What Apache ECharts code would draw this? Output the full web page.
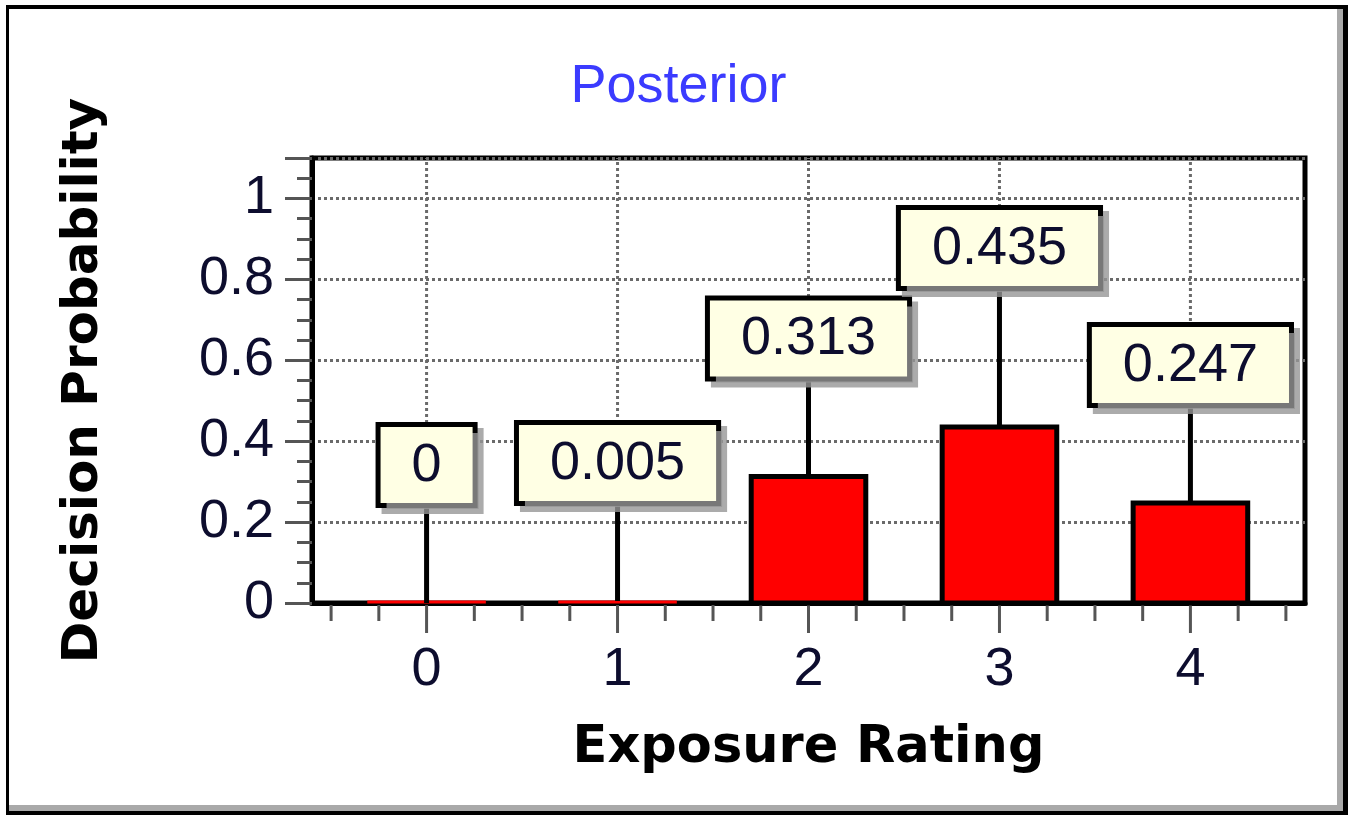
<!DOCTYPE html>
<html><head><meta charset="utf-8">
<script src="https://cdn.jsdelivr.net/npm/echarts@6/dist/echarts.min.js"></script>
<style>html,body{margin:0;padding:0;background:#fff}#chart{width:1357px;height:817px}</style>
</head><body><div id="chart"></div>
<script>
// ---- data ----
const categories = ['0', '1', '2', '3', '4'];
const probabilities = [0, 0.005, 0.313, 0.435, 0.247];
const yTickValues = [0, 0.2, 0.4, 0.6, 0.8, 1];
const chartTitle = 'Posterior';
const xTitle = 'Exposure Rating';
const yTitle = 'Decision Probability';

// ---- style ----
const LABEL_LIFT = [100, 100, 100, 141, 100];
const BAR_HALF = 0.3;
const NUM_FONT = '54px "Liberation Sans", Arial, sans-serif';
const INK = '#0d0d2e';
const GRID_COLOR = '#6a6a6a';
const GRID_STYLE = { stroke: GRID_COLOR, lineWidth: 3, lineDash: [3, 3] };
const TICK_COLOR = '#555';

const chart = echarts.init(document.getElementById('chart'), null, { renderer: 'canvas' });

const catData = categories.map((c, i) => [i]);
const barData = probabilities.map((v, i) => [i, v]);

function renderAxisDecor(params, api) {
  const i = api.value(0);
  const base = api.coord([i, 0]);
  const top = api.coord([i, 1.1]);
  const children = [];
  children.push({ type: 'line', shape: { x1: base[0], y1: base[1], x2: top[0], y2: top[1] }, style: GRID_STYLE });
  const minor = [-0.25, 0.25, 0.5];
  if (i === 0) minor.push(-0.5);
  minor.forEach(d => {
    const p = api.coord([i + d, 0]);
    children.push({ type: 'line', shape: { x1: p[0], y1: p[1] + 2, x2: p[0], y2: p[1] + 18 }, style: { stroke: TICK_COLOR, lineWidth: 3 } });
  });
  children.push({ type: 'line', shape: { x1: base[0], y1: base[1] + 2, x2: base[0], y2: base[1] + 30 }, style: { stroke: TICK_COLOR, lineWidth: 3 } });
  children.push({ type: 'text', x: base[0], y: base[1] + 67, style: { text: categories[i], font: NUM_FONT, fill: INK, align: 'center', verticalAlign: 'middle' } });
  return { type: 'group', children };
}

function renderBar(params, api) {
  const i = api.value(0), v = api.value(1);
  const base = api.coord([i, 0]);
  const top = api.coord([i, v]);
  const l = api.coord([i - BAR_HALF, 0])[0], r = api.coord([i + BAR_HALF, 0])[0];
  const h = base[1] - top[1];
  const children = [];
  if (h > 5) {
    children.push({ type: 'rect', shape: { x: l, y: top[1], width: r - l, height: h }, style: { fill: '#ff0000', stroke: '#000', lineWidth: 5 } });
  } else {
    children.push({ type: 'line', shape: { x1: l - 2, y1: base[1] - 1, x2: r + 2, y2: base[1] - 1 }, style: { stroke: '#ff0000', lineWidth: 3 } });
  }
  const ly = top[1] - LABEL_LIFT[i];
  children.push({ type: 'line', shape: { x1: top[0], y1: top[1], x2: top[0], y2: ly }, style: { stroke: '#000', lineWidth: 5 } });
  children.push({
    type: 'text', x: top[0], y: ly,
    style: {
      text: String(probabilities[i]), font: NUM_FONT, fill: INK, align: 'center', verticalAlign: 'bottom',
      backgroundColor: '#ffffe4', borderColor: '#000', borderWidth: 5, padding: [12, 31, 10, 31],
      shadowColor: 'rgba(150,150,150,0.8)', shadowOffsetX: 6, shadowOffsetY: 6, shadowBlur: 0
    }
  });
  return { type: 'group', children };
}

const option = {
  animation: false,
  backgroundColor: '#fff',
  title: {
    text: chartTitle, left: 'center', top: 55,
    textStyle: { fontFamily: '"Liberation Sans", Arial', fontWeight: 'normal', fontSize: 54, color: '#3b3bff' }
  },
  grid: { left: 312, top: 158, width: 993, height: 445, show: true, borderColor: '#000', borderWidth: 5 },
  xAxis: {
    type: 'value', min: -0.6, max: 4.6,
    name: xTitle, nameLocation: 'middle', nameGap: 120,
    nameTextStyle: { fontFamily: '"DejaVu Sans"', fontWeight: 'bold', fontSize: 51, color: '#000' },
    axisLine: { show: true, onZero: false, lineStyle: { color: '#000', width: 5 } },
    axisTick: { show: false }, axisLabel: { show: false }, splitLine: { show: false }
  },
  yAxis: {
    type: 'value', min: 0, max: 1.1, interval: 0.2,
    name: yTitle, nameLocation: 'middle', nameGap: 203, nameRotate: 90,
    nameTextStyle: { fontFamily: '"DejaVu Sans"', fontWeight: 'bold', fontSize: 50, color: '#000' },
    axisLine: { show: true, onZero: false, lineStyle: { color: '#000', width: 5 } },
    axisTick: { show: true, length: 27, lineStyle: { color: TICK_COLOR, width: 3 } },
    minorTick: { show: true, splitNumber: 4, length: 15, lineStyle: { color: TICK_COLOR, width: 3 } },
    axisLabel: {
      fontSize: 54, fontFamily: '"Liberation Sans", Arial', color: INK, margin: 38, padding: [0, 0, 12, 0],
      formatter: v => yTickValues.some(t => Math.abs(t - v) < 1e-9) ? String(+(+v).toFixed(1)) : ''
    },
    splitLine: { show: true, lineStyle: { color: GRID_COLOR, width: 3, type: [3, 3] } }
  },
  graphic: [
    { type: 'rect', shape: { x: 6, y: 5, width: 1342, height: 4 }, style: { fill: '#000' } },
    { type: 'rect', shape: { x: 6, y: 5, width: 3, height: 810 }, style: { fill: '#000' } },
    { type: 'rect', shape: { x: 1343, y: 5, width: 5, height: 810 }, style: { fill: '#000' } },
    { type: 'rect', shape: { x: 6, y: 811, width: 1342, height: 4 }, style: { fill: '#000' } },
    { type: 'rect', shape: { x: 1337, y: 9, width: 6, height: 802 }, style: { fill: '#a9a9a9' } },
    { type: 'rect', shape: { x: 9, y: 805, width: 1334, height: 6 }, style: { fill: '#a9a9a9' } }
  ],
  series: [
    { type: 'custom', name: 'axisDecor', renderItem: renderAxisDecor, data: catData, z: 1, silent: true },
    { type: 'custom', name: 'Posterior', renderItem: renderBar, data: barData, z: 5 }
  ]
};
chart.setOption(option);
</script>
</body></html>
